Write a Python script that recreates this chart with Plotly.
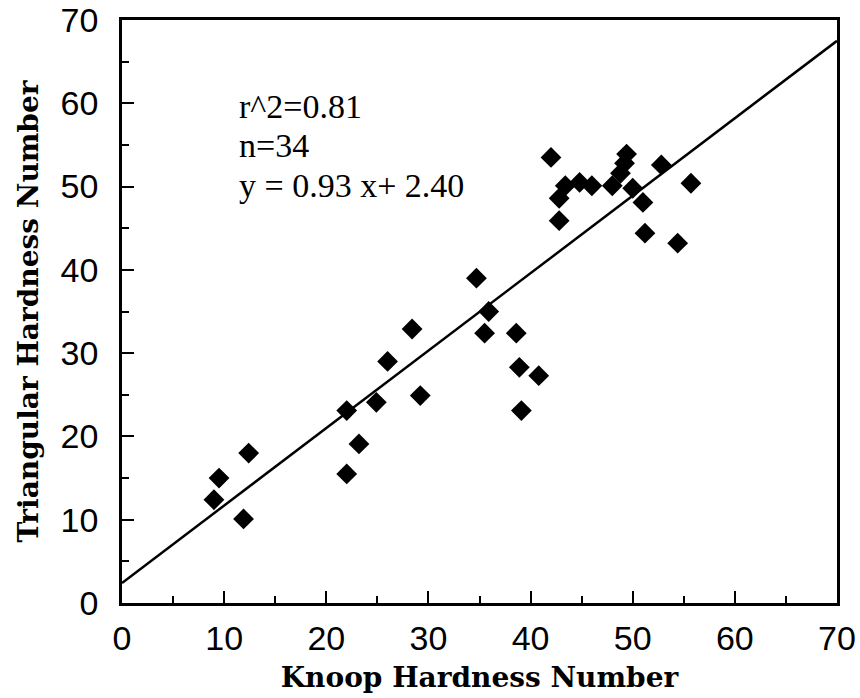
import plotly.graph_objects as go

# Knoop hardness (x) and triangular hardness (y) readings
knoop = [9.0, 9.5, 11.9, 12.4, 22.0, 22.0, 23.2, 24.9, 26.0, 28.4, 29.2,
         34.7, 35.5, 35.9, 38.6, 38.9, 39.1, 40.8,
         42.0, 42.8, 42.8, 43.4, 44.8, 46.0, 48.0, 48.8, 49.2, 49.4,
         50.0, 51.0, 51.2, 52.8, 54.4, 55.7]
triangular = [12.4, 15.0, 10.1, 18.0, 15.5, 23.1, 19.1, 24.1, 29.0, 32.9, 24.9,
              39.0, 32.4, 35.0, 32.4, 28.3, 23.1, 27.3,
              53.5, 45.9, 48.6, 50.1, 50.5, 50.1, 50.1, 51.6, 52.8, 53.9,
              49.8, 48.1, 44.4, 52.6, 43.2, 50.4]

slope = 0.93
intercept = 2.40
fit_x = [0, 70]
stats_lines = ["r^2=0.81", "n=34", "y = 0.93 x+ 2.40"]
stats_y = [59.6, 54.9, 50.1]

x_ticks = [0, 10, 20, 30, 40, 50, 60, 70]
y_ticks = [0, 10, 20, 30, 40, 50, 60, 70]

fig = go.Figure()
fig.add_trace(go.Scatter(
    x=fit_x, y=[slope * v + intercept for v in fit_x],
    mode="lines", line=dict(color="black", width=2.5),
    showlegend=False, hoverinfo="skip"))
fig.add_trace(go.Scatter(
    x=knoop, y=triangular, mode="markers",
    marker=dict(symbol="diamond", size=16, color="black"),
    showlegend=False))

for txt, yy in zip(stats_lines, stats_y):
    fig.add_annotation(x=11.25, y=yy, xref="x", yref="y", text=txt,
                       showarrow=False, xanchor="left", yanchor="middle",
                       font=dict(family="Liberation Serif", size=34, color="black"))

axis_common = dict(
    showgrid=False, zeroline=False, showline=True, linecolor="black",
    linewidth=2.5, mirror=True, ticks="inside", ticklen=12, tickwidth=2,
    tickcolor="black",
    tickfont=dict(family="Liberation Sans", size=34, color="black"),
    minor=dict(ticks="inside", ticklen=7, tickwidth=2, dtick=5, tickcolor="black"),
)

fig.update_xaxes(range=[0, 70], tickvals=x_ticks, ticktext=[str(v) for v in x_ticks],
                 title=dict(text="<b>Knoop Hardness Number</b>", standoff=12,
                            font=dict(family="DejaVu Serif", size=28, color="black")),
                 ticklabelstandoff=3, **axis_common)
fig.update_yaxes(range=[0, 70], tickvals=y_ticks, ticktext=[str(v) for v in y_ticks],
                 title=dict(text="<b>Triangular Hardness Number</b>", standoff=14,
                            font=dict(family="DejaVu Serif", size=28, color="black")),
                 ticklabelstandoff=14, **axis_common)

fig.update_layout(
    width=860, height=698,
    margin=dict(l=122, r=23, t=20, b=95, autoexpand=False),
    paper_bgcolor="white", plot_bgcolor="white",
)

fig.write_html("out.html")
